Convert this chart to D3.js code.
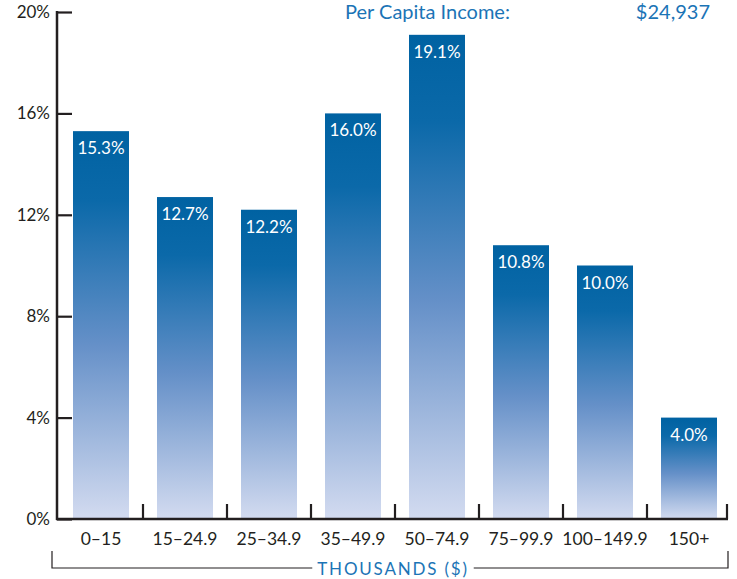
<!DOCTYPE html>
<html>
<head>
<meta charset="utf-8">
<script src="https://cdn.jsdelivr.net/npm/d3@7"></script>
<style>
  body { margin: 0; background: #fff; }
  text { font-family: Lato, "Open Sans", sans-serif; }
</style>
</head>
<body>
<div id="chart"></div>
<script>
// data
var categories = ["0–15", "15–24.9", "25–34.9", "35–49.9", "50–74.9", "75–99.9", "100–149.9", "150+"];
var shares = [15.3, 12.7, 12.2, 16.0, 19.1, 10.8, 10.0, 4.0];
var yTicks = [0, 4, 8, 12, 16, 20];
var headerLabel = "Per Capita Income:";
var headerValue = "$24,937";
var xTitle = "THOUSANDS ($)";

var svgWidth = 737;
var svgHeight = 579;
var axisX = 57;
var baseY = 519;

var svg = d3.select("#chart")
  .append("svg")
  .attr("width", svgWidth)
  .attr("height", svgHeight);

var ink = "#231f20";
var blueText = "#1b74b6";

// gradient for bars
var grad = svg.append("defs").append("linearGradient")
  .attr("id", "barGrad")
  .attr("x1", 0).attr("y1", 0).attr("x2", 0).attr("y2", 1);
grad.append("stop").attr("offset", "0%").attr("stop-color", "#0062a2");
grad.append("stop").attr("offset", "18%").attr("stop-color", "#0b69a9");
grad.append("stop").attr("offset", "55%").attr("stop-color", "#6590c8");
grad.append("stop").attr("offset", "100%").attr("stop-color", "#d3dbf0");

var xScale = d3.scaleBand()
  .domain(categories)
  .range([59, 731])
  .paddingInner(1 / 3)
  .paddingOuter(1 / 6);

var yScale = d3.scaleLinear()
  .domain([0, 20])
  .range([baseY, 12]);

// bars
svg.selectAll(".bar")
  .data(shares)
  .enter()
  .append("rect")
  .attr("class", "bar")
  .attr("x", (d, i) => xScale(categories[i]))
  .attr("y", d => yScale(d))
  .attr("width", xScale.bandwidth())
  .attr("height", d => yScale(0) - yScale(d))
  .attr("fill", "url(#barGrad)");

// value labels
svg.selectAll(".val")
  .data(shares)
  .enter()
  .append("text")
  .attr("class", "val")
  .attr("x", (d, i) => xScale(categories[i]) + xScale.bandwidth() / 2)
  .attr("y", d => yScale(d) + 23)
  .attr("text-anchor", "middle")
  .attr("fill", "#fff")
  .attr("font-size", 17)
  .text(d => d.toFixed(1) + "%");

// y axis: ticks pointing inward
var leftAxis = d3.axisRight(yScale)
  .tickValues(yTicks)
  .tickSize(15)
  .tickFormat("");
var yAxisG = svg.append("g")
  .attr("transform", `translate(${axisX}, 0)`)
  .call(leftAxis);
yAxisG.select(".domain").remove();
yAxisG.selectAll(".tick line").attr("stroke", ink).attr("stroke-width", 2.2);
svg.append("line")
  .attr("x1", axisX).attr("x2", axisX)
  .attr("y1", yScale(20) - 1).attr("y2", baseY + 1)
  .attr("stroke", ink).attr("stroke-width", 2.5);

svg.selectAll(".ylab")
  .data(yTicks)
  .enter()
  .append("text")
  .attr("class", "ylab")
  .attr("x", 50)
  .attr("y", d => yScale(d) + 6)
  .attr("text-anchor", "end")
  .attr("fill", ink)
  .attr("font-size", 17)
  .text(d => d + "%");

// x axis baseline with separators
svg.append("line")
  .attr("x1", axisX - 1).attr("x2", 728)
  .attr("y1", baseY).attr("y2", baseY)
  .attr("stroke", ink).attr("stroke-width", 2.5);

var sepX = categories.slice(1).map(c => xScale(c) - xScale.step() * xScale.paddingInner() / 2);
sepX.push(727);
svg.selectAll(".sep")
  .data(sepX)
  .enter()
  .append("line")
  .attr("class", "sep")
  .attr("x1", d => d).attr("x2", d => d)
  .attr("y1", baseY).attr("y2", baseY - 15)
  .attr("stroke", ink).attr("stroke-width", 2.2);

svg.selectAll(".xlab")
  .data(categories)
  .enter()
  .append("text")
  .attr("class", "xlab")
  .attr("x", d => xScale(d) + xScale.bandwidth() / 2)
  .attr("y", 545)
  .attr("text-anchor", "middle")
  .attr("fill", ink)
  .attr("font-size", 17.5)
  .text(d => d);

// bracket with title
var titleX = 393;
var title = svg.append("text")
  .attr("x", titleX)
  .attr("y", 575)
  .attr("text-anchor", "middle")
  .attr("fill", blueText)
  .attr("font-size", 17)
  .attr("letter-spacing", 1.8)
  .text(xTitle);
var tw = title.node().getComputedTextLength();
var bracket = svg.append("g").attr("stroke", ink).attr("stroke-width", 1.2).attr("fill", "none");
bracket.append("path")
  .attr("d", `M52,551 V568 H${titleX - tw / 2 - 5}`);
bracket.append("path")
  .attr("d", `M${titleX + tw / 2 + 5},568 H728 V551`);

// header
svg.append("text")
  .attr("x", 345)
  .attr("y", 19)
  .attr("fill", blueText)
  .attr("font-size", 20)
  .text(headerLabel);
svg.append("text")
  .attr("x", 710)
  .attr("y", 19)
  .attr("text-anchor", "end")
  .attr("fill", blueText)
  .attr("font-size", 20)
  .text(headerValue);
</script>
</body>
</html>
